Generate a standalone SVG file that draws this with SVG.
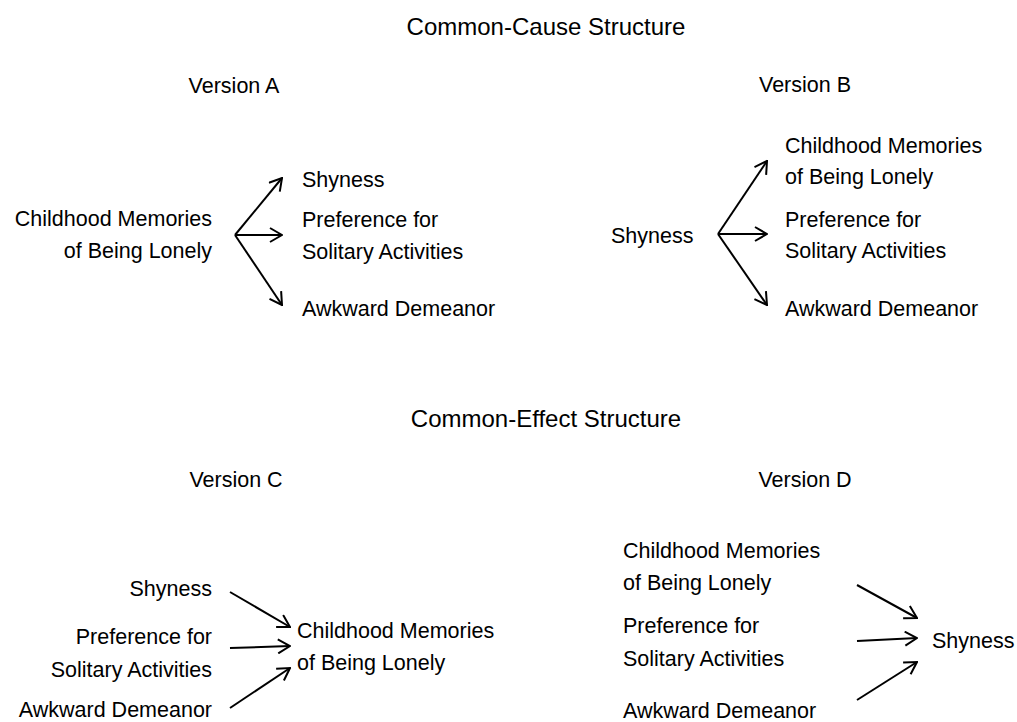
<svg xmlns="http://www.w3.org/2000/svg" width="1017" height="722" viewBox="0 0 1017 722">
<style>
text{font-family:"Liberation Sans",Arial,sans-serif;font-size:21.5px;fill:#000}
.title{font-size:24px;text-anchor:middle}
.ver{text-anchor:middle}
.r{text-anchor:end}
.c line{stroke:#000;stroke-width:2;marker-end:url(#ah)}
</style>
<defs>
<marker id="ah" viewBox="0 0 14 16" refX="13" refY="8" markerWidth="14" markerHeight="16" markerUnits="userSpaceOnUse" orient="auto">
<path d="M1,1 L13,8 L1,15" fill="none" stroke="#000" stroke-width="2" stroke-linejoin="miter"/>
</marker>
</defs>
<rect width="1017" height="722" fill="#fff"/>
<g id="titles">
<text class="title" x="546" y="35">Common-Cause Structure</text>
<text class="ver" x="234" y="93">Version A</text>
<text class="ver" x="805" y="92">Version B</text>
<text class="title" x="546" y="427">Common-Effect Structure</text>
<text class="ver" x="236" y="487">Version C</text>
<text class="ver" x="805" y="487">Version D</text>
</g>
<g id="A-memories"><text class="r" x="212" y="226">Childhood Memories</text><text class="r" x="212" y="258">of Being Lonely</text></g>
<g id="A-shyness"><text x="302" y="187">Shyness</text></g>
<g id="A-preference"><text x="302" y="227">Preference for</text><text x="302" y="259">Solitary Activities</text></g>
<g id="A-awkward"><text x="302" y="316">Awkward Demeanor</text></g>
<g id="B-shyness"><text x="611" y="243">Shyness</text></g>
<g id="B-memories"><text x="785" y="153">Childhood Memories</text><text x="785" y="184">of Being Lonely</text></g>
<g id="B-preference"><text x="785" y="227">Preference for</text><text x="785" y="258">Solitary Activities</text></g>
<g id="B-awkward"><text x="785" y="316">Awkward Demeanor</text></g>
<g id="C-shyness"><text class="r" x="212" y="596">Shyness</text></g>
<g id="C-preference"><text class="r" x="212" y="644">Preference for</text><text class="r" x="212" y="677">Solitary Activities</text></g>
<g id="C-awkward"><text class="r" x="212" y="717">Awkward Demeanor</text></g>
<g id="C-memories"><text x="297" y="638">Childhood Memories</text><text x="297" y="670">of Being Lonely</text></g>
<g id="D-memories"><text x="623" y="558">Childhood Memories</text><text x="623" y="590">of Being Lonely</text></g>
<g id="D-preference"><text x="623" y="633">Preference for</text><text x="623" y="666">Solitary Activities</text></g>
<g id="D-awkward"><text x="623" y="718">Awkward Demeanor</text></g>
<g id="D-shyness"><text x="932" y="648">Shyness</text></g>
<g id="connectors" class="c">
<line x1="235" y1="235" x2="282" y2="178"/>
<line x1="235" y1="235" x2="282" y2="235"/>
<line x1="235" y1="235" x2="282" y2="305"/>
<line x1="718" y1="234" x2="767" y2="161"/>
<line x1="718" y1="234" x2="767" y2="234"/>
<line x1="718" y1="234" x2="767" y2="305"/>
<line x1="230" y1="592" x2="290" y2="627"/>
<line x1="230" y1="648" x2="290" y2="646"/>
<line x1="230" y1="708" x2="290" y2="668"/>
<line x1="857" y1="585" x2="917" y2="618"/>
<line x1="857" y1="641" x2="917" y2="638"/>
<line x1="857" y1="700" x2="917" y2="662"/>
</g>
</svg>
